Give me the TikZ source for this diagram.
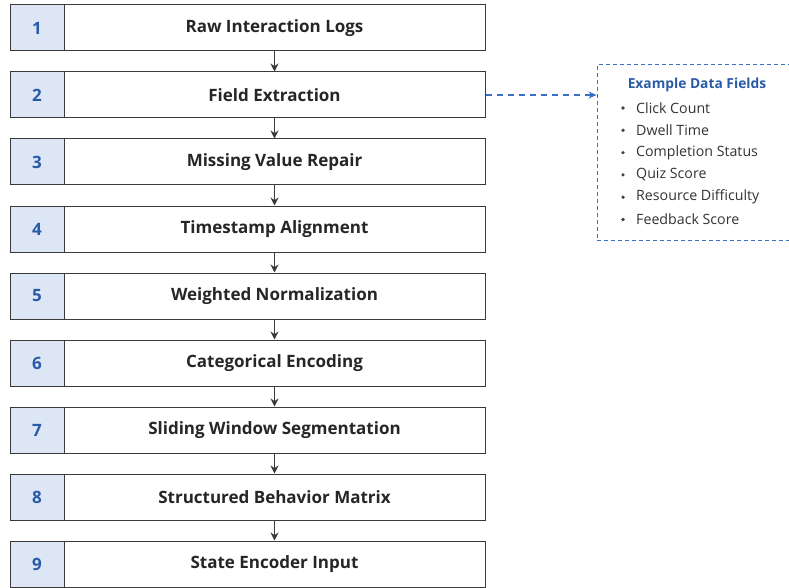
\documentclass[tikz,border=0pt]{standalone}
\usepackage{fontspec}
\setmainfont{Open Sans}
\usetikzlibrary{arrows.meta}
\definecolor{numfill}{HTML}{DCE6F4}
\definecolor{numblue}{HTML}{2A5AA8}
\definecolor{edge}{HTML}{3A3A3A}
\definecolor{dashblue}{HTML}{3A6FC4}
\begin{document}
\begin{tikzpicture}[x=1pt,y=-1pt,
  numbox/.style={draw=edge, line width=1pt, fill=numfill, minimum width=54pt, minimum height=46pt, inner sep=0pt, text=numblue, font=\fontsize{17}{20}\selectfont\bfseries},
  mainbox/.style={draw=edge, line width=1pt, fill=white, minimum width=421pt, minimum height=46pt, inner sep=0pt, text=black!85, font=\fontsize{17}{20}\selectfont\bfseries},
  flow/.style={-{Stealth[length=8pt,width=8pt]}, draw=edge, line width=1.2pt},
  itemtxt/.style={anchor=west, inner sep=0pt, font=\fontsize{14.2}{16}\selectfont, text=black!80},
  bul/.style={circle, fill=black!75, inner sep=0pt, minimum size=3.6pt}]
\useasboundingbox (0,0) rectangle (789,588);
\foreach \i/\t [evaluate=\i as \yy using {5+(\i-1)*67+23}] in {1/Raw Interaction Logs,2/Field Extraction,3/Missing Value Repair,4/Timestamp Alignment,5/Weighted Normalization,6/Categorical Encoding,7/Sliding Window Segmentation,8/Structured Behavior Matrix,9/State Encoder Input}{
  \node[numbox] (n\i) at (37,\yy) {\i};
  \node[mainbox] (m\i) at (274.5,\yy) {\t};
}
\foreach \a/\b in {1/2,2/3,3/4,4/5,5/6,6/7,7/8,8/9}{
  \draw[flow] (m\a.south) -- (m\b.north);
}
\node[draw=dashblue, dashed, line width=1pt, dash pattern=on 4pt off 3pt, minimum width=192pt, minimum height=175pt, inner sep=0pt] (ex) at (693,152.5) {};
\node[anchor=center, inner sep=0pt, text=numblue, font=\fontsize{13.8}{16}\selectfont\bfseries] (ext) at (697,85) {Example Data Fields};
\foreach \k/\t [evaluate=\k as \yy using {108+(\k-1)*22.3}] in {1/Click Count,2/Dwell Time,3/Completion Status,4/Quiz Score,5/Resource Difficulty,6/Feedback Score}{
  \node[bul] (b\k) at (623,\yy) {};
  \node[itemtxt] (t\k) at (636,\yy) {\t};
}
\draw[-{Stealth[length=8pt,width=7pt]}, draw=dashblue, line width=1.1pt, dash pattern=on 6pt off 5pt] (m2.east) -- (ex.west |- m2.east);
\end{tikzpicture}
\end{document}
